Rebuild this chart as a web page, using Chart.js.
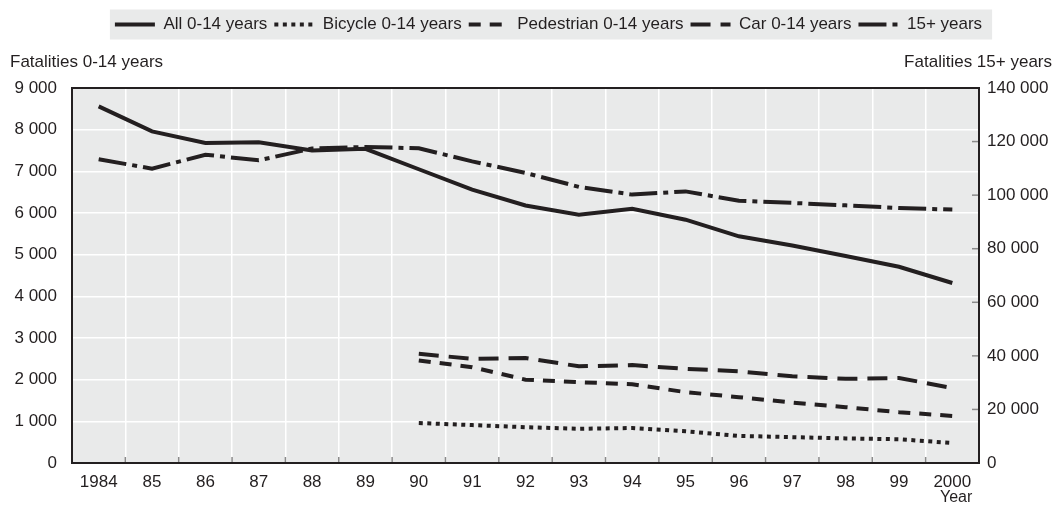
<!DOCTYPE html>
<html>
<head>
<meta charset="utf-8">
<script src="https://cdn.jsdelivr.net/npm/chart.js@4.4.1/dist/chart.umd.min.js"></script>
<style>
  html, body { margin: 0; padding: 0; background: #fff; }
  #wrap { width: 1057px; height: 507px; }
</style>
</head>
<body>
<div id="wrap"><canvas id="fatalChart" width="1057" height="507"></canvas></div>
<script>
// --- Data ---
const years = ['1984', '85', '86', '87', '88', '89', '90', '91', '92', '93', '94', '95', '96', '97', '98', '99', '2000'];
const all014 = [8560, 7960, 7680, 7700, 7500, 7540, 7050, 6560, 6180, 5960, 6100, 5840, 5440, 5220, 4970, 4710, 4320];
const bicycle014 = [null, null, null, null, null, null, 960, 910, 860, 820, 840, 760, 650, 620, 590, 570, 480];
const pedestrian014 = [null, null, null, null, null, null, 2460, 2300, 2000, 1940, 1890, 1700, 1580, 1450, 1340, 1220, 1130];
const car014 = [null, null, null, null, null, null, 2620, 2500, 2520, 2320, 2350, 2260, 2200, 2080, 2020, 2040, 1800];
const over15 = [113400, 109900, 115100, 113000, 117400, 118000, 117500, 112600, 108300, 103100, 100200, 101400, 97900, 97100, 96200, 95200, 94600];

const INK = '#231f20';
const FONT = "'Liberation Sans', Arial, sans-serif";
const FS = 17;

function fmt(v) {
    return String(v).replace(/\B(?=(\d{3})+(?!\d))/g, ' ');
}

// plot background, legend box, frame, inside ticks, axis captions
const decor = {
    id: 'decor',
    afterLayout(chart) {
        // legend in the reference sits a bit right of the canvas centre
        const lg = chart.legend;
        if (lg) { lg.left += 20; lg.right += 20; }
    },
    beforeDraw(chart) {
        const {ctx, chartArea: a} = chart;
        ctx.save();
        ctx.fillStyle = '#e9eaea';
        ctx.fillRect(a.left, a.top, a.right - a.left, a.bottom - a.top);
        const lg = chart.legend;
        if (lg && lg.legendHitBoxes && lg.legendHitBoxes.length) {
            const hb = lg.legendHitBoxes;
            const l = Math.min(...hb.map(h => h.left));
            const r = Math.max(...hb.map(h => h.left + h.width));
            const cy = hb[0].top + hb[0].height / 2;
            ctx.fillStyle = '#e9eaea';
            ctx.fillRect(l - 5, cy - 15, r - l + 15, 30);
        }
        ctx.restore();
    },
    afterDraw(chart) {
        const {ctx, chartArea: a, scales} = chart;
        ctx.save();
        // inside tick marks on x axis (between categories)
        ctx.strokeStyle = '#8a8a8a';
        ctx.lineWidth = 1.5;
        const xs = scales.x;
        for (let i = 1; i < years.length; i++) {
            const px = (xs.getPixelForTick(i - 1) + xs.getPixelForTick(i)) / 2;
            ctx.beginPath();
            ctx.moveTo(px, a.bottom);
            ctx.lineTo(px, a.bottom - 6);
            ctx.stroke();
        }
        // inside tick marks on right axis
        const yr = scales.y1;
        yr.ticks.forEach(t => {
            if (t.value === yr.min || t.value === yr.max) return;
            const py = yr.getPixelForValue(t.value);
            ctx.beginPath();
            ctx.moveTo(a.right, py);
            ctx.lineTo(a.right - 7, py);
            ctx.stroke();
        });
        // frame
        ctx.strokeStyle = INK;
        ctx.lineWidth = 2;
        ctx.strokeRect(a.left, a.top, a.right - a.left, a.bottom - a.top);
        // captions
        ctx.fillStyle = INK;
        ctx.font = FS + 'px ' + FONT;
        ctx.textBaseline = 'middle';
        ctx.textAlign = 'left';
        ctx.fillText('Fatalities 0-14 years', 10, 62);
        ctx.textAlign = 'right';
        ctx.fillText('Fatalities 15+ years', 1052, 62);
        const lastX = xs.getPixelForTick(years.length - 1);
        ctx.font = '16px ' + FONT;
        ctx.fillText('Year', lastX + 20, 498);
        ctx.restore();
    }
};

const ctx = document.getElementById('fatalChart').getContext('2d');
new Chart(ctx, {
    type: 'line',
    data: {
        labels: years,
        datasets: [
            { label: 'All 0-14 years', data: all014, yAxisID: 'y', borderDash: [] },
            { label: 'Bicycle 0-14 years', data: bicycle014, yAxisID: 'y', borderDash: [4, 4.5] },
            { label: 'Pedestrian 0-14 years', data: pedestrian014, yAxisID: 'y', borderDash: [12, 9] },
            { label: 'Car 0-14 years', data: car014, yAxisID: 'y', borderDash: [20, 10] },
            { label: '15+ years', data: over15, yAxisID: 'y1', borderDash: [28, 6, 5, 6] }
        ].map(d => Object.assign(d, {
            borderColor: INK,
            backgroundColor: INK,
            borderWidth: 4,
            pointRadius: 0,
            pointStyle: 'line',
            tension: 0,
            fill: false,
            spanGaps: false
        }))
    },
    options: {
        responsive: false,
        animation: false,
        layout: { padding: { left: 0, right: 0, top: 9, bottom: 0 } },
        plugins: {
            legend: {
                display: true,
                position: 'top',
                labels: {
                    color: INK,
                    font: { family: FONT, size: FS },
                    usePointStyle: true,
                    pointStyle: 'line',
                    pointStyleWidth: 40,
                    padding: 7,
                    generateLabels(chart) {
                        const items = Chart.defaults.plugins.legend.labels.generateLabels(chart);
                        items.forEach(it => {
                            const ds = chart.data.datasets[it.datasetIndex];
                            it.lineDash = ds.borderDash;
                            it.lineWidth = 4;
                            it.lineCap = 'butt';
                            it.strokeStyle = INK;
                            it.fillStyle = INK;
                        });
                        return items;
                    }
                }
            },
            title: {
                display: true,
                text: '',
                weight: 500,
                font: { size: 20 },
                padding: { top: 0, bottom: 21 }
            },
            tooltip: { enabled: false }
        },
        scales: {
            x: {
                type: 'category',
                offset: true,
                grid: { offset: true, color: '#ffffff', lineWidth: 1.5, drawTicks: false },
                border: { display: false },
                ticks: { color: INK, font: { family: FONT, size: FS }, padding: 9, maxRotation: 0, autoSkip: false },
                afterFit(s) { s.height = 44; }
            },
            y: {
                position: 'left',
                min: 0,
                max: 9000,
                grid: { color: '#ffffff', lineWidth: 1.5, drawTicks: false },
                border: { display: false },
                ticks: { stepSize: 1000, color: INK, font: { family: FONT, size: FS }, padding: 15, callback: v => fmt(v) },
                afterFit(s) { s.width = 72; }
            },
            y1: {
                position: 'right',
                min: 0,
                max: 140000,
                grid: { drawOnChartArea: false, drawTicks: false },
                border: { display: false },
                ticks: { stepSize: 20000, color: INK, font: { family: FONT, size: FS }, padding: 8, callback: v => fmt(v) },
                afterFit(s) { s.width = 78; }
            }
        }
    },
    plugins: [decor]
});
</script>
</body>
</html>
